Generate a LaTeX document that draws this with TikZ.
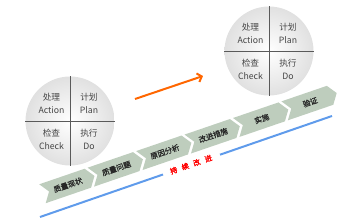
\documentclass[tikz,border=0pt]{standalone}
\usepackage{fontspec}
\setmainfont{Noto Sans CJK SC}
\newfontfamily\cjkbold{Noto Sans CJK SC}[FakeBold=2]
\newfontfamily\cjkmed{Noto Sans CJK SC}[FakeBold=0.8]
\usetikzlibrary{arrows.meta}
\definecolor{bandfill}{RGB}{190,205,189}
\definecolor{blueline}{RGB}{95,155,235}
\definecolor{orangearrow}{RGB}{255,102,0}
\definecolor{celltext}{RGB}{70,70,70}
\definecolor{divcol}{RGB}{90,90,90}
\tikzset{
  pdcacircle/.style={circle, minimum size=89pt, inner sep=0pt, draw=none,
    shading=radial, inner color=white, outer color=gray!24},
  divider/.style={draw=divcol, line width=0.8pt},
  cellt/.style={font=\fontsize{8.7}{13}\selectfont, align=center, text=celltext, inner sep=0pt},
  bandt/.style={font=\cjkmed\fontsize{7.5}{9}\selectfont, text=black!85, inner sep=0pt, rotate=18.9},
  redt/.style={font=\cjkbold\fontsize{7.2}{8}\selectfont, text=red, inner sep=0pt, rotate=19.1},
  blueln/.style={draw=blueline, line width=2pt},
  orangeln/.style={draw=orangearrow, line width=2pt, -{Straight Barb[length=4pt,width=9pt]}}
}
\begin{document}
\begin{tikzpicture}[x=1pt,y=1pt]
\useasboundingbox (0,0) rectangle (360,220);

% PDCA circles
\foreach \n/\cx/\cy in {c1/70/99, c2/269/169}{
  \node[pdcacircle] (\n) at (\cx,\cy) {};
  \draw[divider] (\n.north) -- (\n.south);
  \draw[divider] (\n.west) -- (\n.east);
  \node[cellt] (\n a) at ([shift={(-18.5,17.5)}]\n) {处理\\Action};
  \node[cellt] (\n p) at ([shift={(19,17.5)}]\n) {计划\\Plan};
  \node[cellt] (\n c) at ([shift={(-18.5,-18.5)}]\n) {检查\\Check};
  \node[cellt] (\n d) at ([shift={(19,-18.5)}]\n) {执行\\Do};
}

% orange arrow
\coordinate (a0) at (135,121);
\coordinate (a1) at (203,144);
\draw[orangeln] (a0) -- (a1);

% chevron band
\foreach \i/\lx/\ly/\txt in {1/68/35/质量现状, 2/116.4/51.6/质量问题, 3/164.9/68.2/原因分析,
  4/213.3/84.7/改进措施, 5/261.8/101.3/实施, 6/310.2/117.9/验证}{
  \begin{scope}[shift={(\lx,\ly)}, rotate=18.9]
    \fill[bandfill] (-27,10) -- (21,10) -- (28,0) -- (21,-10) -- (-27,-10) -- (-20,0) -- cycle;
  \end{scope}
  \node[bandt] (s\i) at (\lx,\ly) {\txt};
}

% blue line with gap
\coordinate (b0) at (40,3);
\coordinate (b1) at (163,45.5);
\coordinate (b2) at (220,65.3);
\coordinate (b3) at (332,104);
\draw[blueln] (b0) -- (b1);
\draw[blueln] (b2) -- (b3);

% red text
\node[redt] (kz) at (191,55.5) {持\hspace{5pt}续\hspace{5pt}改\hspace{5pt}进};
\end{tikzpicture}
\end{document}
